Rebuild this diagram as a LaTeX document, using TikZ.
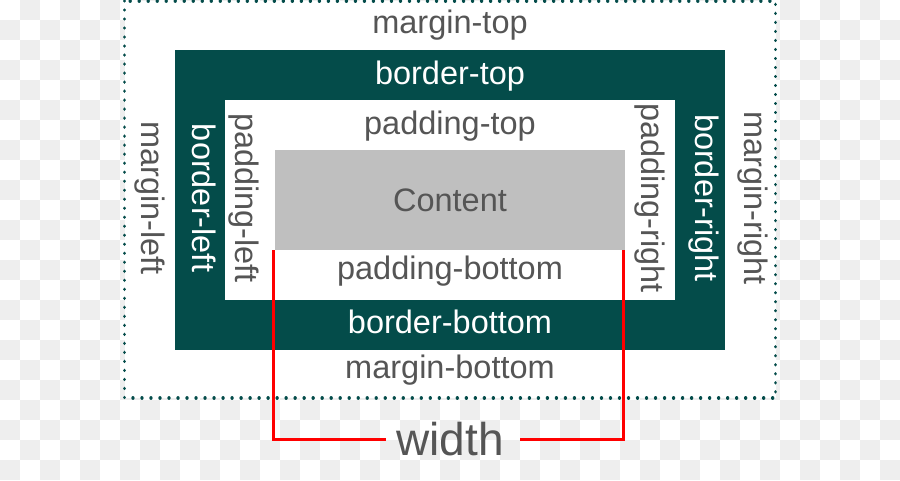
\documentclass[tikz,border=0pt]{standalone}
\usepackage{fontspec}
\setmainfont{Liberation Sans}
\definecolor{boxgreen}{HTML}{044C4A}
\definecolor{txtgray}{HTML}{555555}
\definecolor{contgray}{HTML}{BFBFBF}
\definecolor{checkgray}{HTML}{EEEEEE}
\definecolor{dimred}{HTML}{FF0000}
\begin{document}
\begin{tikzpicture}[x=1pt,y=-1pt,
  boxnode/.style={draw=none,inner sep=0pt,outer sep=0pt,anchor=north west},
  lbl/.style={font=\fontsize{32.5}{33}\selectfont,text=txtgray,inner sep=0pt,anchor=base},
  lblw/.style={lbl,text=white},
  vert/.style={rotate=-90},
  dimline/.style={draw=dimred,line width=3pt}]
\useasboundingbox (0,0) rectangle (900,480);
% transparency checkerboard
\fill[white] (0,0) rectangle (900,480);
\foreach \i in {0,...,44}{
  \foreach \j in {0,...,23}{
    \ifodd\numexpr\i+\j\relax
      \fill[checkgray] (\i*20,\j*20) rectangle (\i*20+20,\j*20+20);
    \fi
  }
}
% boxes
\node[boxnode,fill=white,minimum width=651pt,minimum height=397pt] (margin) at (124.5,1) {};
\draw[boxgreen,line width=3.4pt,line cap=round,dash pattern=on 0.01pt off 9pt]
  (margin.north west) rectangle (margin.south east);
\node[boxnode,fill=boxgreen,minimum width=550pt,minimum height=300pt] (border) at (175,50) {};
\node[boxnode,fill=white,minimum width=450pt,minimum height=200pt] (padding) at (225,100) {};
\node[boxnode,fill=contgray,minimum width=350pt,minimum height=100pt] (content) at (275,150) {};
% horizontal labels
\node[lbl]  (mt) at (450,33)  {margin-top};
\node[lblw] (bt) at (450,84)  {border-top};
\node[lbl]  (pt) at (450,134) {padding-top};
\node[lbl]  (ct) at (450,211) {Content};
\node[lbl]  (pb) at (450,279) {padding-bottom};
\node[lblw] (bb) at (450,333) {border-bottom};
\node[lbl]  (mb) at (450,378) {margin-bottom};
% vertical labels
\node[lbl,vert]  (ml) at (141,198) {margin-left};
\node[lblw,vert] (bl) at (192,198) {border-left};
\node[lbl,vert]  (pl) at (235,198) {padding-left};
\node[lbl,vert]  (pr) at (641,198) {padding-right};
\node[lblw,vert] (br) at (695,198) {border-right};
\node[lbl,vert]  (mr) at (744,198) {margin-right};
% width dimension
\node[font=\fontsize{46}{48}\selectfont,text=txtgray,inner sep=0pt,anchor=base] (w) at (450,455) {width};
\coordinate (la) at (273.5,250);
\coordinate (lb) at (273.5,439);
\coordinate (lc) at (386,439);
\coordinate (ra) at (623.3,250);
\coordinate (rb) at (623.3,439);
\coordinate (rc) at (520,439);
\draw[dimline] (la) -- (lb) -- (lc);
\draw[dimline] (rc) -- (rb) -- (ra);
\end{tikzpicture}
\end{document}
